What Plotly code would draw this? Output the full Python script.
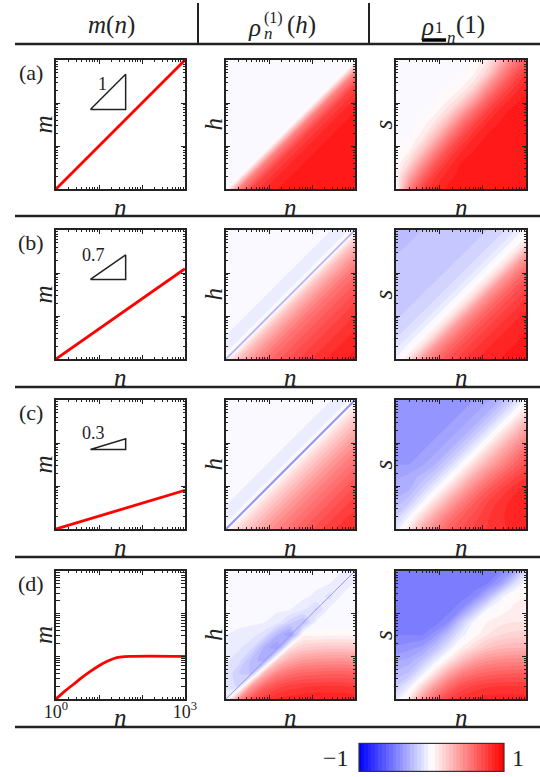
import math
import plotly.graph_objects as go

W, H = 540, 777
FONT = "Liberation Serif"
INK = "#222222"

# log10 positions of the grid nodes (n along x, h or s along y)
grid_exp = [0.0, 0.3, 0.6, 0.9, 1.2, 1.5, 1.8, 2.1, 2.4, 2.7, 3.0]

# correlation values, rows listed from top (10^3) to bottom (10^0)
A_MID = [
    [-.04, -.04, -.04, -.04, -.04, -.04, -.04, -.04, -.04, -.04, -.04],
    [-.04, -.04, -.04, -.04, -.04, -.04, -.04, -.04, -.04, -.04, .50],
    [-.04, -.04, -.04, -.04, -.04, -.04, -.04, -.04, -.04, .50, .75],
    [-.04, -.04, -.04, -.04, -.04, -.04, -.04, -.04, .50, .75, .85],
    [-.04, -.04, -.04, -.04, -.04, -.04, -.04, .50, .75, .85, .90],
    [-.04, -.04, -.04, -.04, -.04, -.04, .50, .75, .85, .90, .92],
    [-.04, -.04, -.04, -.04, -.04, .50, .75, .85, .90, .92, .93],
    [-.04, -.04, -.04, -.04, .50, .75, .85, .90, .92, .93, .94],
    [-.04, -.04, -.04, .50, .75, .85, .90, .92, .93, .94, .94],
    [-.04, -.04, .50, .75, .85, .90, .92, .93, .94, .95, .95],
    [-.04, .50, .75, .85, .90, .92, .93, .94, .95, .95, .95],
]
A_RIGHT = [
    [-.04, -.04, -.04, -.04, -.04, -.04, .01, .08, .28, .50, .65],
    [-.04, -.04, -.04, -.04, -.04, -.01, .04, .18, .45, .65, .80],
    [-.04, -.04, -.04, -.04, -.02, .03, .14, .40, .62, .78, .88],
    [-.04, -.04, -.04, -.01, .04, .14, .35, .60, .77, .87, .92],
    [-.04, -.04, -.02, .03, .14, .35, .58, .76, .87, .92, .93],
    [-.04, -.03, .02, .12, .32, .57, .75, .86, .91, .93, .94],
    [-.03, .00, .08, .28, .53, .73, .85, .91, .93, .94, .94],
    [-.01, .04, .22, .48, .70, .84, .90, .93, .94, .94, .95],
    [.00, .15, .42, .66, .82, .90, .93, .94, .95, .95, .95],
    [.02, .33, .60, .79, .88, .92, .94, .95, .95, .95, .95],
    [.00, .50, .75, .86, .91, .93, .94, .95, .95, .95, .95],
]
B_MID = [
    [-.04, -.04, -.04, -.04, -.04, -.04, -.04, -.04, -.04, -.10, .00],
    [-.04, -.04, -.04, -.04, -.04, -.04, -.04, -.04, -.10, .00, .25],
    [-.04, -.04, -.04, -.04, -.04, -.04, -.04, -.10, .00, .25, .42],
    [-.04, -.04, -.04, -.04, -.04, -.04, -.10, .00, .25, .42, .55],
    [-.04, -.04, -.04, -.04, -.04, -.10, .00, .25, .42, .55, .64],
    [-.04, -.04, -.04, -.04, -.10, .00, .25, .42, .55, .64, .71],
    [-.04, -.04, -.04, -.10, .00, .25, .42, .55, .64, .71, .77],
    [-.04, -.04, -.10, .00, .25, .42, .55, .64, .71, .77, .82],
    [-.04, -.10, .00, .25, .42, .55, .64, .71, .77, .82, .86],
    [-.10, .00, .25, .42, .55, .64, .71, .77, .82, .86, .89],
    [.00, .25, .42, .55, .64, .71, .77, .82, .86, .89, .92],
]
B_RIGHT = [
    [-.27, -.27, -.25, -.24, -.24, -.24, -.22, -.20, -.17, -.12, -.03],
    [-.27, -.25, -.24, -.24, -.24, -.22, -.20, -.17, -.12, -.03, .12],
    [-.25, -.24, -.24, -.24, -.22, -.20, -.17, -.12, -.03, .12, .40],
    [-.24, -.24, -.24, -.22, -.20, -.17, -.12, -.03, .12, .40, .58],
    [-.24, -.24, -.22, -.20, -.17, -.12, -.03, .12, .40, .58, .70],
    [-.24, -.22, -.20, -.17, -.12, -.03, .12, .40, .58, .70, .78],
    [-.22, -.20, -.17, -.12, -.03, .12, .40, .58, .70, .78, .84],
    [-.20, -.17, -.12, -.03, .12, .40, .58, .70, .78, .84, .88],
    [-.17, -.12, -.03, .12, .40, .58, .70, .78, .84, .88, .90],
    [-.12, -.03, .12, .40, .58, .70, .78, .84, .88, .90, .92],
    [-.05, .12, .40, .58, .70, .78, .84, .88, .90, .92, .93],
]
C_MID = [
    [-.04, -.04, -.04, -.04, -.04, -.04, -.04, -.04, -.04, -.10, .00],
    [-.04, -.04, -.04, -.04, -.04, -.04, -.04, -.04, -.10, .00, .15],
    [-.04, -.04, -.04, -.04, -.04, -.04, -.04, -.10, .00, .15, .28],
    [-.04, -.04, -.04, -.04, -.04, -.04, -.10, .00, .15, .28, .40],
    [-.04, -.04, -.04, -.04, -.04, -.10, .00, .15, .28, .40, .50],
    [-.04, -.04, -.04, -.04, -.10, .00, .15, .28, .40, .50, .58],
    [-.04, -.04, -.04, -.10, .00, .15, .28, .40, .50, .58, .65],
    [-.04, -.04, -.10, .00, .15, .28, .40, .50, .58, .65, .72],
    [-.04, -.10, .00, .15, .28, .40, .50, .58, .65, .72, .78],
    [-.10, .00, .15, .28, .40, .50, .58, .65, .72, .78, .82],
    [.00, .15, .28, .40, .50, .58, .65, .72, .78, .82, .86],
]
C_RIGHT = [
    [-.40, -.40, -.40, -.40, -.40, -.40, -.40, -.36, -.30, -.18, -.03],
    [-.40, -.40, -.40, -.40, -.40, -.40, -.36, -.30, -.18, -.03, .15],
    [-.40, -.40, -.40, -.40, -.40, -.36, -.30, -.18, -.03, .15, .33],
    [-.40, -.40, -.40, -.40, -.36, -.30, -.18, -.03, .15, .33, .47],
    [-.40, -.40, -.40, -.36, -.30, -.18, -.03, .15, .33, .47, .62],
    [-.40, -.40, -.36, -.30, -.18, -.03, .15, .33, .47, .60, .72],
    [-.36, -.33, -.28, -.18, -.03, .15, .35, .50, .63, .73, .80],
    [-.33, -.30, -.18, -.03, .15, .35, .52, .65, .75, .83, .88],
    [-.28, -.20, -.04, .15, .35, .52, .65, .75, .82, .87, .89],
    [-.20, -.05, .15, .35, .52, .64, .72, .79, .84, .87, .88],
    [-.10, .10, .33, .50, .62, .70, .76, .80, .84, .86, .86],
]
D_MID = [
    [-.04, -.04, -.04, -.04, -.04, -.04, -.04, -.04, -.04, -.05, -.08],
    [-.04, -.04, -.04, -.04, -.04, -.04, -.04, -.04, -.05, -.10, -.04],
    [-.04, -.04, -.04, -.04, -.04, -.04, -.04, -.06, -.12, -.04, -.04],
    [-.04, -.04, -.04, -.04, -.04, -.05, -.09, -.16, -.04, -.04, -.04],
    [-.04, -.04, -.04, -.05, -.08, -.18, -.26, -.04, -.04, -.04, -.04],
    [-.05, -.06, -.08, -.13, -.30, -.40, .03, .03, .04, .04, .04],
    [-.07, -.09, -.14, -.32, -.40, .12, .20, .22, .23, .23, .22],
    [-.09, -.13, -.27, -.34, .20, .35, .41, .43, .44, .44, .43],
    [-.10, -.20, -.26, .30, .50, .58, .62, .63, .64, .64, .63],
    [-.12, -.16, .40, .62, .72, .77, .79, .80, .80, .80, .79],
    [-.06, .45, .70, .80, .86, .88, .89, .90, .90, .90, .88],
]
D_RIGHT = [
    [-.53, -.53, -.53, -.53, -.53, -.53, -.53, -.53, -.50, -.40, -.15],
    [-.53, -.53, -.53, -.53, -.53, -.53, -.53, -.50, -.38, -.15, .00],
    [-.53, -.53, -.53, -.53, -.53, -.53, -.48, -.30, -.08, .03, .05],
    [-.53, -.53, -.53, -.53, -.53, -.45, -.25, -.05, .02, .06, .07],
    [-.53, -.53, -.53, -.53, -.45, -.22, -.03, .05, .08, .10, .10],
    [-.50, -.50, -.50, -.42, -.25, -.08, .02, .10, .15, .17, .18],
    [-.44, -.42, -.38, -.26, -.10, .05, .15, .24, .28, .30, .30],
    [-.36, -.33, -.24, -.08, .08, .25, .38, .44, .47, .48, .48],
    [-.28, -.24, -.08, .12, .35, .50, .58, .62, .64, .65, .65],
    [-.20, -.08, .15, .40, .58, .70, .76, .79, .80, .80, .80],
    [-.10, .10, .40, .62, .76, .83, .86, .88, .88, .88, .87],
]

# m(n) curves, log10 n against log10 m
logn_a = [0.0, 3.0]
logm_a = [0.0, 3.0]
logn_b = [0.0, 3.0]
logm_b = [0.0, 2.1]
logn_c = [0.0, 3.0]
logm_c = [0.0, 0.9]
logn_d = [0.0, 0.2, 0.4, 0.6, 0.79, 1.0, 1.18, 1.35, 1.49, 1.72, 3.0]
logm_d = [0.0, 0.18, 0.34, 0.5, 0.64, 0.78, 0.88, 0.95, 0.98, 1.0, 1.0]

# slope triangles drawn in the m(n) panels
tri_logn = [0.8, 1.62, 1.62, 0.8]
tri_logm_a = [1.85, 1.85, 2.67, 1.85]
tri_logm_b = [1.85, 1.85, 2.42, 1.85]
tri_logm_c = [1.85, 1.85, 2.10, 1.85]
slope_text = ["1", "0.7", "0.3"]
slope_pos = [(1.08, 2.45), (0.88, 2.42), (0.88, 2.24)]

# h = n line on the rho panels
diag_exp = [0.0, 3.0]

panel_tags = ["(a)", "(b)", "(c)", "(d)"]
ylabels = ["m", "h", "s"]

# layout in pixels
cols = [(56, 185), (226, 355), (396, 526)]
rows = [(60, 189), (230, 359), (400, 529), (571, 699)]
rules = [44, 216, 387, 557, 727]

minor_vals = [k + math.log10(j) for k in range(3) for j in range(2, 10)]


def fx(px):
    return px / W


def fy(py):
    return 1 - py / H


def axis(domain, anchor):
    return dict(domain=domain, anchor=anchor, range=[0, 3], showgrid=False, zeroline=False,
                showline=True, linecolor=INK, linewidth=1.5, mirror="allticks",
                ticks="inside", tickvals=[1, 2], ticklen=4, tickwidth=1, tickcolor=INK,
                showticklabels=False, fixedrange=True,
                minor=dict(tickvals=minor_vals, ticks="inside", ticklen=2,
                           tickwidth=0.8, tickcolor=INK))


annotations = []


def text(x, y, s, size, angle=0):
    annotations.append(dict(x=fx(x), y=fy(y), xref="paper", yref="paper", text=s,
                            showarrow=False, xanchor="center", yanchor="middle",
                            textangle=angle, font=dict(family=FONT, size=size, color=INK)))


fig = go.Figure()
layout = {}

curves = [(logn_a, logm_a), (logn_b, logm_b), (logn_c, logm_c), (logn_d, logm_d)]
tris = [tri_logm_a, tri_logm_b, tri_logm_c]
fields = [(A_MID, A_RIGHT), (B_MID, B_RIGHT), (C_MID, C_RIGHT), (D_MID, D_RIGHT)]
diag_style = [None, ("rgb(178,178,250)", 1.6), ("rgb(150,150,250)", 2.0), ("rgb(150,150,250)", 1.0)]

for r in range(4):
    for c in range(3):
        idx = r * 3 + c + 1
        sfx = "" if idx == 1 else str(idx)
        xa, ya = "x" + sfx, "y" + sfx
        xd = [fx(cols[c][0]), fx(cols[c][1])]
        yd = [fy(rows[r][1]), fy(rows[r][0])]
        layout["xaxis" + sfx] = axis(xd, ya)
        layout["yaxis" + sfx] = axis(yd, xa)
        if c == 0:
            fig.add_trace(go.Scatter(x=curves[r][0], y=curves[r][1], mode="lines",
                                     line=dict(color="#ff0000", width=2.8, shape="spline"),
                                     xaxis=xa, yaxis=ya, hoverinfo="skip"))
            if r < 3:
                fig.add_trace(go.Scatter(x=tri_logn, y=tris[r], mode="lines",
                                         line=dict(color=INK, width=1.5),
                                         xaxis=xa, yaxis=ya, hoverinfo="skip"))
                annotations.append(dict(x=slope_pos[r][0], y=slope_pos[r][1], xref=xa, yref=ya,
                                        text=slope_text[r], showarrow=False,
                                        xanchor="center", yanchor="middle",
                                        font=dict(family=FONT, size=18, color=INK)))
        else:
            z = fields[r][c - 1][::-1]
            fig.add_trace(go.Contour(x=grid_exp, y=grid_exp, z=z, coloraxis="coloraxis",
                                     autocontour=False,
                                     contours=dict(start=-1, end=1, size=0.05, coloring="fill",
                                                   showlines=False),
                                     line=dict(width=0, smoothing=0.6),
                                     xaxis=xa, yaxis=ya, hoverinfo="skip"))
            if c == 1 and diag_style[r] is not None:
                fig.add_trace(go.Scatter(x=diag_exp, y=diag_exp, mode="lines",
                                         line=dict(color=diag_style[r][0], width=diag_style[r][1]),
                                         xaxis=xa, yaxis=ya, hoverinfo="skip"))
        xc = (cols[c][0] + cols[c][1]) / 2
        yc = (rows[r][0] + rows[r][1]) / 2
        text(xc, rows[r][1] + 18, "<i>n</i>", 25)
        text(cols[c][0] - 13, yc, "<i>%s</i>" % ylabels[c], 25, -90)
    text(31, rows[r][0] + 12, panel_tags[r], 22)

# 10^0 and 10^3 under the last m(n) panel, on an overlaying axis
layout["xaxis13"] = dict(overlaying="x10", anchor="y10", range=[0, 3], tickvals=[0, 3],
                         ticktext=["10<sup>0</sup>", "10<sup>3</sup>"], ticks="",
                         showline=False, showgrid=False, zeroline=False, fixedrange=True,
                         ticklabelstandoff=0, side="bottom",
                         tickfont=dict(family=FONT, size=18, color=INK))
fig.add_trace(go.Scatter(x=logn_d, y=logm_d, mode="lines", line=dict(width=0),
                         opacity=0, xaxis="x13", yaxis="y10", hoverinfo="skip"))

# column headers
text(111, 25, "<i>m</i>(<i>n</i>)", 25)
text(254, 27, "<i>ρ</i>", 25)
text(273, 18, "(1)", 16)
text(268, 33, "<i>n</i>", 17)
text(301, 25, "(<i>h</i>)", 25)
text(427, 26, "<i>ρ</i>", 25)
text(439, 27, "1", 16)
text(451, 37, "<i>n</i>", 17)
text(470, 25, "(1)", 25)

# colour bar end labels
text(336, 758, "−1", 24)
text(518, 758, "1", 24)

shapes = []
for yy in rules:
    shapes.append(dict(type="line", xref="paper", yref="paper", x0=fx(15), x1=fx(540),
                       y0=fy(yy), y1=fy(yy), line=dict(color=INK, width=2.5)))
for xx in (198, 369):
    shapes.append(dict(type="line", xref="paper", yref="paper", x0=fx(xx), x1=fx(xx),
                       y0=fy(3), y1=fy(44), line=dict(color=INK, width=2)))
shapes.append(dict(type="line", xref="paper", yref="paper", x0=fx(422), x1=fx(446),
                   y0=fy(40), y1=fy(40), line=dict(color="#000000", width=3.5)))

fig.update_layout(
    width=W, height=H, margin=dict(l=0, r=0, t=0, b=0, pad=0, autoexpand=False),
    paper_bgcolor="white", plot_bgcolor="white", showlegend=False,
    font=dict(family=FONT, color=INK),
    annotations=annotations, shapes=shapes,
    coloraxis=dict(cmin=-1, cmax=1,
                   colorscale=[[0, "#0000ff"], [0.5, "#ffffff"], [1, "#ff0000"]],
                   colorbar=dict(orientation="h", lenmode="pixels", len=145, thickness=28,
                                 x=fx(431.5), xanchor="center", y=fy(757.5), yanchor="middle",
                                 showticklabels=False, ticks="", outlinewidth=1.2,
                                 outlinecolor="#333333", xpad=0, ypad=0)),
    **layout,
)

fig.write_html("out.html", config={"displayModeBar": False},
               post_script="document.body.style.margin='0px';"
                           "document.body.style.overflow='hidden';")
